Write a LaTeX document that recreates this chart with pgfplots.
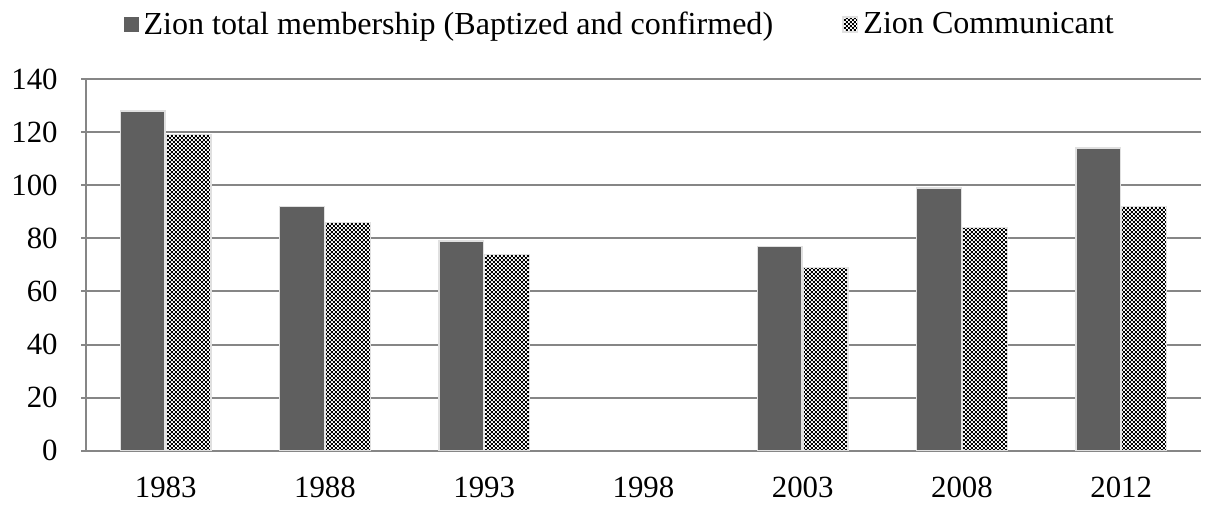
\documentclass[border=0pt]{standalone}
\usepackage{pgfplots}
\pgfplotsset{compat=1.18}
\usepackage{fontspec}
\setmainfont{Liberation Serif}
\usetikzlibrary{patterns}

% fine checker dots for the communicant series
\pgfdeclarepatternformonly{zioncheck}{\pgfpointorigin}{\pgfpoint{1.6pt}{1.6pt}}{\pgfpoint{1.6pt}{1.6pt}}{
  \pgfpathrectangle{\pgfpointorigin}{\pgfpoint{0.8pt}{0.8pt}}
  \pgfpathrectangle{\pgfpoint{0.8pt}{0.8pt}}{\pgfpoint{0.8pt}{0.8pt}}
  \pgfusepath{fill}}

\definecolor{bardark}{RGB}{95,95,95}
\definecolor{axgray}{RGB}{134,134,134}

\begin{document}
\begin{tikzpicture}
\begin{axis}[
    scale only axis,
    width=451.9pt, height=150.8pt,
    ybar=0.4pt,
    bar width=18.2pt,
    ymin=0, ymax=140,
    ytick={0,20,...,140},
    xmin=-0.5, xmax=6.5,
    xtick={0,...,6},
    xticklabels={1983,1988,1993,1998,2003,2008,2012},
    extra x ticks={-0.5,0.5,1.5,2.5,3.5,4.5,5.5,6.5},
    extra x tick labels={},
    extra x tick style={major tick length=4pt, tick style={draw=axgray, line width=0.8pt}, grid=none},
    tick align=outside,
    major tick length=4pt,
    x tick style={draw=none},
    y tick style={draw=axgray, line width=0.8pt},
    axis x line=bottom, axis y line=left,
    axis line style={-, draw=axgray, line width=0.8pt},
    ymajorgrids,
    grid style={draw=axgray, line width=0.8pt},
    tick label style={font=\fontsize{12.5}{14}\selectfont},
    /pgf/number format/assume math mode=true,
    xticklabel style={yshift=-5pt},
    yticklabel style={xshift=-6pt},
    legend style={at={(0.5,1)}, anchor=south, xshift=-9pt, yshift=13.5pt, draw=none,
        inner sep=1pt,
        font=\fontsize{13}{15}\selectfont, legend columns=2,
        /tikz/every even column/.append style={column sep=26pt}},
    legend image code/.code={\path[#1, draw=none] (0pt,-3pt) rectangle (6pt,3pt);},
]
\addplot[fill=bardark, draw=black!12, line width=0.6pt]
  coordinates {(0,128) (1,92) (2,79) (4,77) (5,99) (6,114)};
\addplot[fill=white, postaction={pattern=zioncheck, pattern color=black}, draw=black!12, line width=0.6pt]
  coordinates {(0,119) (1,86) (2,74) (4,69) (5,84) (6,92)};
\legend{Zion total membership (Baptized and confirmed), Zion Communicant}
\end{axis}
% page frame matching the reference proportions
\path ([xshift=-34.9pt,yshift=-21.5pt]current axis.south west) rectangle ([xshift=3.2pt,yshift=32pt]current axis.north east);
\end{tikzpicture}
\end{document}
